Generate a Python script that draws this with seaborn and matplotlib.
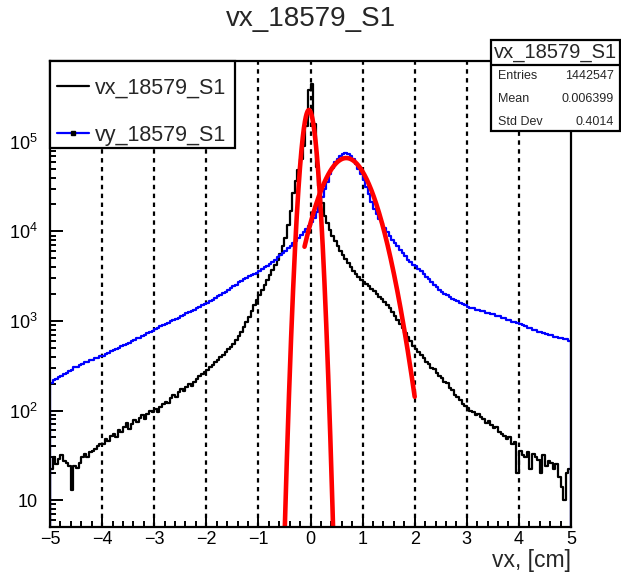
import numpy as np
import pandas as pd
import matplotlib
matplotlib.use("Agg")
import matplotlib.pyplot as plt
import seaborn as sns
from matplotlib.lines import Line2D
from matplotlib.patches import Rectangle
from matplotlib.ticker import FixedLocator, MultipleLocator, LogLocator, FuncFormatter, NullFormatter

# ---------------- data ----------------
title = "vx_18579_S1"
x_range = [-5.0, 5.0]
n_bins = 200
vx_counts = [
    22, 30, 25, 29, 32, 27, 26, 24, 13, 24, 23, 26, 30, 33, 30, 34, 35, 37, 40, 42,
    42, 48, 46, 52, 55, 51, 60, 58, 66, 72, 62, 70, 78, 74, 82, 88, 80, 92, 98, 96,
    104, 96, 110, 118, 125, 122, 138, 150, 142, 160, 172, 165, 185, 196, 190, 210, 225, 240, 255, 270,
    285, 305, 320, 350, 370, 395, 420, 445, 480, 515, 560, 610, 680, 760, 860, 980, 1120, 1300, 1500, 1720,
    1950, 2200, 2500, 2850, 3250, 3700, 4200, 4800, 5600, 6800, 8500, 11800, 17000, 27000, 37000, 49000, 64000, 90000, 150000, 380000,
    440000, 160000, 52000, 32000, 21000, 15000, 12500, 10500, 9000, 7800, 6800, 6000, 5400, 4900, 4400, 4000, 3650, 3350, 3100, 2900,
    2750, 2600, 2450, 2300, 2150, 2000, 1870, 1750, 1620, 1500, 1380, 1250, 1130, 1020, 920, 830, 740, 660, 590, 530,
    480, 455, 420, 390, 350, 330, 300, 290, 260, 245, 230, 210, 205, 180, 170, 150, 140, 130, 118, 112,
    108, 100, 96, 90, 92, 84, 80, 72, 76, 68, 64, 66, 58, 55, 52, 48, 50, 42, 44, 20,
    35, 32, 30, 34, 22, 33, 30, 28, 20, 32, 24, 27, 26, 22, 25, 18, 14, 10, 20, 22,
]
vy_counts = [
    205, 218, 222, 236, 241, 258, 260, 278, 286, 303, 308, 322, 330, 345, 348, 362, 370, 384, 390, 405,
    410, 428, 436, 458, 468, 492, 500, 525, 536, 560, 572, 598, 610, 640, 650, 684, 696, 730, 745, 780,
    815, 835, 872, 890, 930, 950, 995, 1015, 1065, 1090, 1145, 1170, 1225, 1250, 1305, 1335, 1395, 1430, 1495, 1530,
    1600, 1650, 1735, 1790, 1885, 1950, 2055, 2130, 2240, 2320, 2445, 2550, 2690, 2790, 2935, 3040, 3175, 3270, 3385, 3470,
    3600, 3780, 3960, 4160, 4370, 4600, 4850, 5120, 5420, 5750, 6100, 6480, 6900, 7350, 7850, 8400, 9100, 9800, 10700, 11600,
    12800, 14200, 16500, 20000, 24000, 29500, 36000, 43500, 51000, 59000, 65000, 69000, 72500, 74500, 74000, 70000, 64500, 57000, 50000, 43500,
    37500, 31500, 26000, 21500, 18000, 15500, 13600, 12300, 11000, 9800, 8900, 8100, 7400, 6800, 6200, 5700, 5250, 4850, 4500, 4200,
    4090, 3820, 3570, 3330, 3110, 2910, 2720, 2540, 2370, 2220, 2120, 2020, 1930, 1850, 1780, 1710, 1650, 1590, 1540, 1490,
    1440, 1395, 1390, 1340, 1335, 1290, 1285, 1240, 1238, 1200, 1185, 1140, 1128, 1080, 1070, 1030, 1020, 985, 975, 945,
    935, 895, 880, 845, 828, 795, 788, 760, 755, 725, 720, 700, 695, 670, 668, 645, 642, 625, 622, 600,
]
# gaussian fits: amplitude, mean, sigma, fit range low, fit range high
fit_amp = [2.27e5, 6.6e4]
fit_mean = [-0.03, 0.686]
fit_sigma = [0.100, 0.375]
fit_lo = [-0.5, -0.115]
fit_hi = [0.5, 2.0]
x_ticks = [-5, -4, -3, -2, -1, 0, 1, 2, 3, 4, 5]
y_ticks = [10, 100, 1000, 10000, 100000]
y_lim = [5.0, 8.0e5]
stats_labels = ["Entries", "Mean", "Std Dev"]
stats_values = ["1442547", "0.006399", "0.4014"]
legend_labels = ["vx_18579_S1", "vy_18579_S1"]

# ---------------- style ----------------
sns.set_theme(style="white")
plt.rcParams["font.family"] = ["Liberation Sans", "DejaVu Sans"]
plt.rcParams["mathtext.fontset"] = "custom"
plt.rcParams["mathtext.rm"] = "Liberation Sans"
plt.rcParams["mathtext.it"] = "Liberation Sans:italic"
plt.rcParams["mathtext.bf"] = "Liberation Sans:bold"
plt.rcParams["axes.unicode_minus"] = True
plt.rcParams["axes.axisbelow"] = False
plt.rcParams["xtick.bottom"] = True
plt.rcParams["ytick.left"] = True
plt.rcParams["xtick.direction"] = "in"
plt.rcParams["ytick.direction"] = "in"
plt.rcParams["xtick.color"] = "black"
plt.rcParams["ytick.color"] = "black"

W, H = 621, 572
fig = plt.figure(figsize=(W / 100, H / 100), dpi=100)
ax_l, ax_r, ax_t, ax_b = 50, 571, 61, 527
ax_w, ax_h = ax_r - ax_l, ax_b - ax_t
ax = fig.add_axes([ax_l / W, 1 - ax_b / H, ax_w / W, ax_h / H])

bin_w = (x_range[1] - x_range[0]) / n_bins
edges = np.linspace(x_range[0], x_range[1], n_bins + 1)
centers = 0.5 * (edges[:-1] + edges[1:])
df = pd.DataFrame({"x": centers, "vx": vx_counts, "vy": vy_counts})

# dotted grid at integer x
for xv in x_ticks[1:-1]:
    ax.axvline(xv, color="black", lw=1.6, ls=(0, (2, 2)), zorder=1)

sns.histplot(data=df, x="x", weights="vx", binwidth=bin_w, binrange=tuple(x_range),
             element="step", fill=False, color="black", linewidth=1.6, ax=ax, zorder=3)
sns.histplot(data=df, x="x", weights="vy", binwidth=bin_w, binrange=tuple(x_range),
             element="step", fill=False, color="blue", linewidth=1.6, ax=ax, zorder=4)
# ROOT-style drop at histogram edges
for vals, col, z in [(vx_counts, "black", 3), (vy_counts, "blue", 4)]:
    ax.plot([edges[0], edges[0]], [vals[0], y_lim[0] * 0.5], color=col, lw=1.6, zorder=z, clip_on=True)
    ax.plot([edges[-1], edges[-1]], [vals[-1], y_lim[0] * 0.5], color=col, lw=1.6, zorder=z, clip_on=True)

for a, m, s, lo, hi in zip(fit_amp, fit_mean, fit_sigma, fit_lo, fit_hi):
    xs = np.linspace(lo, hi, 400)
    ys = a * np.exp(-0.5 * ((xs - m) / s) ** 2)
    sns.lineplot(x=xs, y=ys, color="red", lw=3.3, ax=ax, estimator=None, sort=False, zorder=5)

ax.set_yscale("log")
ax.set_xlim(x_range)
ax.set_ylim(y_lim)
ax.set_ylabel("")
ax.set_xlabel("vx, [cm]", fontsize=16.5, ha="right", va="center")
ax.xaxis.set_label_coords(1.0, -(560 - ax_b) / ax_h)
ax.set_axisbelow(False)

ax.xaxis.set_major_locator(FixedLocator(x_ticks))
ax.xaxis.set_minor_locator(MultipleLocator(0.2))
ax.set_xticklabels([str(t).replace("-", "\u2212") for t in x_ticks])
ax.yaxis.set_major_locator(FixedLocator(y_ticks))
ax.yaxis.set_minor_locator(LogLocator(base=10, subs=np.arange(2, 10)))
ax.yaxis.set_minor_formatter(NullFormatter())


def ylab(v, pos):
    e = int(round(np.log10(v)))
    return "10" if e == 1 else r"$\mathregular{10^{%d}}$" % e


ax.yaxis.set_major_formatter(FuncFormatter(ylab))
ax.tick_params(axis="both", which="both", direction="in", color="black", width=1.4,
               bottom=True, left=True, top=False, right=False)
ax.tick_params(axis="x", which="major", length=8.5, labelsize=13, pad=3)
ax.tick_params(axis="x", which="minor", length=4.3)
ax.tick_params(axis="y", which="major", length=9, labelsize=13, pad=9)
ax.tick_params(axis="y", which="minor", length=4.5)
for t in ax.xaxis.get_major_ticks() + ax.xaxis.get_minor_ticks() + ax.yaxis.get_major_ticks() + ax.yaxis.get_minor_ticks():
    t.tick1line.set_visible(True)
    t.tick1line.set_zorder(6)
for sp in ax.spines.values():
    sp.set_visible(True)
    sp.set_color("black")
    sp.set_linewidth(1.6)
    sp.set_zorder(7)
ax.grid(False)

# legend (box drawn separately, ROOT style)
lg_x0, lg_x1, lg_y1 = 50, 235, 148
ax.add_patch(Rectangle((0, 1 - (lg_y1 - ax_t) / ax_h), (lg_x1 - lg_x0) / ax_w, (lg_y1 - ax_t) / ax_h,
                       transform=ax.transAxes, facecolor="white", edgecolor="black", lw=1.6,
                       zorder=9, clip_on=False))
handles = [Line2D([], [], color="black", lw=1.6),
           Line2D([], [], color="blue", lw=1.6, marker="s", ms=2.2, mfc="black", mec="black")]
leg = ax.legend(handles, legend_labels, loc="upper left",
                bbox_to_anchor=((57 - ax_l) / ax_w, 1 - (78 - ax_t) / ax_h),
                borderaxespad=0, fontsize=15.5, frameon=False,
                handlelength=1.5, handletextpad=0.25, labelspacing=1.2, borderpad=0)
leg.set_zorder(10)

# title
fig.text(311 / W, 1 - 19 / H, title, ha="center", va="center", fontsize=20)

# stats box
bx0, bx1, by0, by1, bsep = 491, 620, 40, 131, 65
fig.add_artist(Rectangle((bx0 / W, 1 - by1 / H), (bx1 - bx0) / W, (by1 - by0) / H,
                         transform=fig.transFigure, facecolor="white", edgecolor="black", lw=1.6, zorder=20))
fig.add_artist(Line2D([bx0 / W, bx1 / W], [1 - bsep / H, 1 - bsep / H], transform=fig.transFigure,
                      color="black", lw=1.6, zorder=21))
fig.text((bx0 + bx1) / 2 / W, 1 - 53 / H, title, ha="center", va="center", fontsize=14.5, zorder=22)
for i, (lab, val) in enumerate(zip(stats_labels, stats_values)):
    yy = 1 - (76 + 23 * i) / H
    fig.text(498 / W, yy, lab, ha="left", va="center", fontsize=9, zorder=22)
    fig.text(614 / W, yy, val, ha="right", va="center", fontsize=9, zorder=22)

fig.savefig("out.png", dpi=100)
